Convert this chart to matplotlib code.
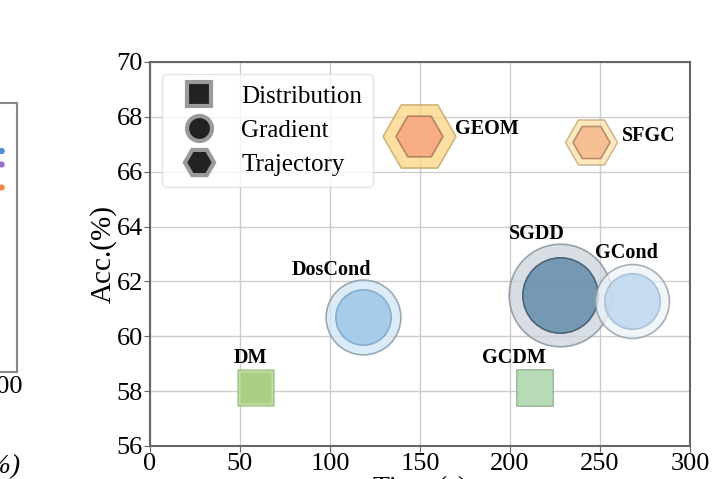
import matplotlib
matplotlib.use("Agg")
import matplotlib.pyplot as plt
from matplotlib.lines import Line2D

plt.rcParams['font.family'] = ['Liberation Serif', 'DejaVu Serif']
plt.rcParams['mathtext.fontset'] = 'stix'

# method results: condensation time (s) vs accuracy (%)
methods = ['DM', 'GCDM', 'DosCond', 'SGDD', 'GCond', 'GEOM', 'SFGC']
time_s = [59, 214, 118.5, 228, 268, 149.6, 245]
acc = [58.1, 58.1, 60.7, 61.5, 61.3, 67.3, 67.1]
kind = ['Distribution', 'Distribution', 'Gradient', 'Gradient', 'Gradient',
        'Trajectory', 'Trajectory']
outer_size = [680, 700, 2900, 5450, 2830, 2760, 1400]
inner_size = [500, 620, 1590, 2950, 1600, 1140, 710]

# styling
shape = {'Distribution': 's', 'Gradient': 'o', 'Trajectory': 'H'}
outer_face = ['#b2d48a', '#b3d9b0', '#cfe6f6', '#cbd3dc', '#edf3fa', '#fdd682', '#fde2a6']
outer_edge = ['#9cbc80', '#6f8c6f', '#7f909e', '#7d8893', '#8f969e', '#c2a060', '#c2a77e']
inner_face = ['#a6cc7c', '#b5dab2', '#9cc7e8', '#648cac', '#bdd7ef', '#f9a47e', '#f6b88e']
inner_edge = ['#c0dba2', '#b5dab2', '#7fa6c4', '#3f566a', '#a3bcd3', '#a8785a', '#a98366']
# label offsets in points (dx, dy) and alignment
label_dx = [-4, -15, -23, -17, -4, 26, 22]
label_dy = [22, 22, 34, 44, 34, 5, 4]
label_ha = ['center', 'center', 'center', 'center', 'center', 'left', 'left']

fig = plt.figure(figsize=(7.17, 4.79), dpi=100)

# fragment of the neighbouring panel on the left
left_x = [99, 99, 99]
left_y = [67.5, 66.8, 65.6]
axl = fig.add_axes([-0.30, 0.2234, 0.3237, 0.5616])
axl.scatter(left_x, left_y, c=['#4a90d9', '#9b6fc7', '#f08a4b'], s=12, zorder=3)
axl.set_xlim(0, 106)
axl.set_ylim(56, 70)
axl.set_xticks([100])
axl.set_xticklabels(['100'], fontsize=19)
axl.set_yticks([])
axl.tick_params(axis='x', length=0, pad=3)
for sp in axl.spines.values():
    sp.set_color('#888888')
    sp.set_linewidth(1.5)
fig.text(0.028, 0.0, 'Condensation Ratio (%)', ha='right', va='bottom',
         fontsize=20, style='italic')

ax = fig.add_axes([0.2092, 0.0689, 0.7531, 0.8017])
ax.grid(True, color='#cccccc', linewidth=1.0, zorder=0)
ax.set_axisbelow(True)

for i in range(len(methods)):
    m = shape[kind[i]]
    ax.scatter(time_s[i], acc[i], s=outer_size[i], marker=m, c=outer_face[i],
               edgecolors=outer_edge[i], linewidths=1.2, alpha=0.75, zorder=2 + i * 0.1)
    ax.scatter(time_s[i], acc[i], s=inner_size[i], marker=m, c=inner_face[i],
               edgecolors=inner_edge[i], linewidths=1.2, alpha=0.85, zorder=2.05 + i * 0.1)
    ax.annotate(methods[i], (time_s[i], acc[i]), xytext=(label_dx[i], label_dy[i]),
                textcoords='offset points', ha=label_ha[i], va='center',
                fontsize=14.5, fontweight='bold', zorder=5)

ax.set_xlim(0, 300)
ax.set_ylim(56, 70)
ax.set_xticks([0, 50, 100, 150, 200, 250, 300])
ax.set_yticks([56, 58, 60, 62, 64, 66, 68, 70])
ax.tick_params(labelsize=19, direction='out', length=4, color='#666666', pad=1)
ax.set_xlabel('Time (s)', fontsize=20, labelpad=1)
ax.set_ylabel('Acc.(%)', fontsize=21, labelpad=0)
for sp in ax.spines.values():
    sp.set_color('#666666')
    sp.set_linewidth(1.5)

handles = [
    Line2D([], [], linestyle='none', marker='s', markersize=17, markerfacecolor='#222222',
           markeredgecolor='#9a9a9a', markeredgewidth=3, label='Distribution'),
    Line2D([], [], linestyle='none', marker='o', markersize=18, markerfacecolor='#222222',
           markeredgecolor='#9a9a9a', markeredgewidth=3, label='Gradient'),
    Line2D([], [], linestyle='none', marker='H', markersize=21, markerfacecolor='#222222',
           markeredgecolor='#9a9a9a', markeredgewidth=3, label='Trajectory'),
]
ax.legend(handles=handles, loc='upper left', fontsize=18, labelspacing=0.45,
          handletextpad=0.7, borderpad=0.45, framealpha=0.8, edgecolor='#dddddd',
          bbox_to_anchor=(0.0, 1.0), borderaxespad=0.5)

fig.savefig('out.png', dpi=100)
